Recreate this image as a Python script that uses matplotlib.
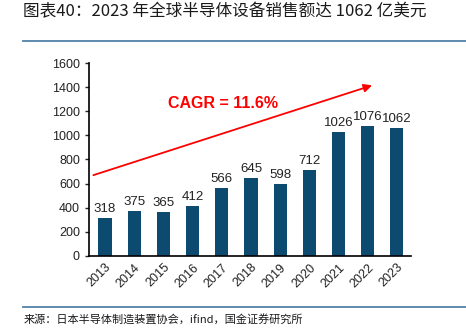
import matplotlib.pyplot as plt
from matplotlib.lines import Line2D

plt.rcParams['font.family'] = ['Liberation Sans', 'Noto Sans CJK SC', 'DejaVu Sans']

years = ['2013', '2014', '2015', '2016', '2017', '2018', '2019', '2020', '2021', '2022', '2023']
sales = [318, 375, 365, 412, 566, 645, 598, 712, 1026, 1076, 1062]
y_ticks = [0, 200, 400, 600, 800, 1000, 1200, 1400, 1600]

title = '图表40：2023 年全球半导体设备销售额达 1062 亿美元'
source = '来源：日本半导体制造装置协会，ifind，国金证券研究所'
cagr_text = 'CAGR = 11.6%'

bar_color = '#0d4a70'
rule_color = '#4f81a8'

fig = plt.figure(figsize=(4.66, 3.34), dpi=100)
ax = fig.add_axes([0.191, 0.234, 0.692, 0.577])

x = range(len(years))
bars = ax.bar(x, sales, width=0.45, color=bar_color)
for xi, v in zip(x, sales):
    ax.text(xi, v + 25, str(v), ha='center', va='bottom', fontsize=9.5, color='#222222')

ax.set_xlim(-0.55, len(years) - 0.5)
ax.set_ylim(0, 1600)
ax.set_yticks(y_ticks)
ax.set_xticks(list(x))
ax.set_xticklabels(years, rotation=45, ha='right', rotation_mode='anchor')
ax.tick_params(axis='both', labelsize=9, colors='#222222', length=3, width=1)
ax.tick_params(axis='x', length=0, pad=4)
for side in ('top', 'right'):
    ax.spines[side].set_visible(False)
ax.spines['left'].set_linewidth(1.2)
ax.spines['bottom'].set_linewidth(1.2)

# trend arrow
ax.annotate('', xy=(9.15, 1415), xytext=(-0.4, 670),
            arrowprops=dict(arrowstyle='-|>', color='#ff0000', lw=1.3,
                            mutation_scale=12, shrinkA=0, shrinkB=0))
ax.text(2.15, 1265, cagr_text, color='#ff0000', fontsize=11.5, fontweight='bold',
        ha='left', va='center')

fig.text(0.05, 0.965, title, fontsize=12, style='italic',
         ha='left', va='center', color='#1a1a1a',
         family=['Noto Sans CJK SC', 'DejaVu Sans'])
fig.add_artist(Line2D([0.049, 1.0], [0.877, 0.877], color=rule_color, lw=1.3))
fig.add_artist(Line2D([0.049, 1.0], [0.081, 0.081], color=rule_color, lw=1.3))
fig.text(0.05, 0.045, source, fontsize=8, ha='left', va='center', color='#1a1a1a',
         family=['Noto Sans CJK SC', 'DejaVu Sans'])

fig.savefig('out.png', dpi=100, facecolor='white')
